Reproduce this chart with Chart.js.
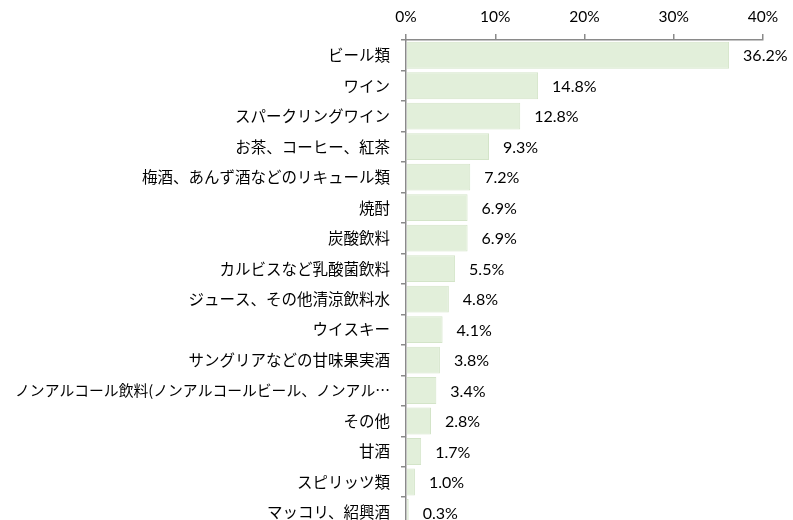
<!DOCTYPE html>
<html>
<head>
<meta charset="utf-8">
<script src="https://cdn.jsdelivr.net/npm/chart.js@4"></script>
<style>
html,body{margin:0;padding:0;background:#fff;overflow:hidden;}
#wrap{width:793px;height:548px;position:relative;}
</style>
</head>
<body>
<div id="wrap"><canvas id="chart"></canvas></div>
<script>
// categories and shares (%)
const categories = [
  "ビール類",
  "ワイン",
  "スパークリングワイン",
  "お茶、コーヒー、紅茶",
  "梅酒、あんず酒などのリキュール類",
  "焼酎",
  "炭酸飲料",
  "カルビスなど乳酸菌飲料",
  "ジュース、その他清涼飲料水",
  "ウイスキー",
  "サングリアなどの甘味果実酒",
  "ノンアルコール飲料(ノンアルコールビール、ノンアル…",
  "その他",
  "甘酒",
  "スピリッツ類",
  "マッコリ、紹興酒"
];
const shares = [36.2, 14.8, 12.8, 9.3, 7.2, 6.9, 6.9, 5.5, 4.8, 4.1, 3.8, 3.4, 2.8, 1.7, 1.0, 0.3];
const xTicks = [0, 10, 20, 30, 40];

const axisColor = "#8a8a8a";

// value labels next to each bar
const valueLabels = {
  id: "valueLabels",
  afterDatasetsDraw(chart) {
    const ctx = chart.ctx;
    const meta = chart.getDatasetMeta(0);
    ctx.save();
    ctx.font = "16px Lato";
    ctx.fillStyle = "#000";
    ctx.textAlign = "left";
    ctx.textBaseline = "middle";
    meta.data.forEach((bar, i) => {
      ctx.fillText(shares[i].toFixed(1) + "%", bar.x + 14, bar.y + 1);
    });
    ctx.restore();
  }
};

new Chart(document.getElementById("chart"), {
  type: "bar",
  data: {
    labels: categories,
    datasets: [{
      data: shares,
      backgroundColor: "#e2efda",
      borderColor: "#d3e4c8",
      borderWidth: 1,
      barPercentage: 0.88,
      categoryPercentage: 1
    }]
  },
  options: {
    indexAxis: "y",
    responsive: true,
    maintainAspectRatio: false,
    animation: false,
    layout: { padding: { left: 0, right: 30, top: 0, bottom: 0 } },
    plugins: { legend: { display: false }, tooltip: { enabled: false } },
    scales: {
      x: {
        position: "top",
        min: 0,
        max: 40,
        afterFit(scale) { scale.height = 40; },
        afterBuildTicks(scale) { scale.ticks = xTicks.map(v => ({ value: v })); },
        border: { color: axisColor, width: 1.5 },
        grid: { drawOnChartArea: false, color: axisColor, tickLength: 6, lineWidth: 1.5 },
        ticks: {
          padding: 8,
          color: "#000",
          font: { family: "Lato", size: 15.5 },
          callback: v => v + "%"
        }
      },
      y: {
        afterFit(scale) { scale.width = 406; },
        border: { color: axisColor, width: 1.5 },
        grid: { offset: true, drawOnChartArea: false, color: axisColor, tickLength: 5, lineWidth: 1.5 },
        ticks: {
          padding: 11,
          color: "#000",
          autoSkip: false,
          // the long truncated label is a touch smaller so it fits the left edge
          font: c => ({ family: "Noto Sans CJK JP", size: categories[c.index].length > 20 ? 14.8 : 15.5 })
        }
      }
    }
  },
  plugins: [valueLabels]
});
</script>
</body>
</html>
